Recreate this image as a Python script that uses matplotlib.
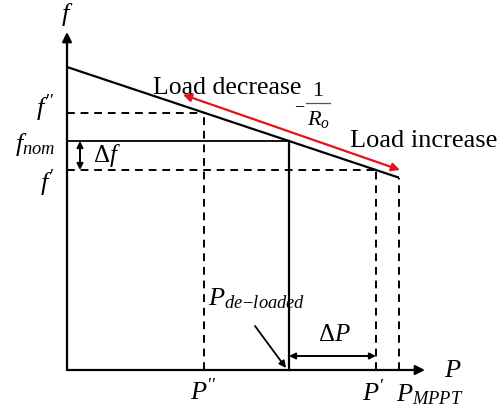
import numpy as np
import matplotlib
matplotlib.use('Agg')
import matplotlib.pyplot as plt

# droop characteristic  f = f0 - P / Ro  (schematic units)
f0 = 303.0
Ro = 3.0
# power points on the P axis
P_pts = [137, 222, 309, 332]   # P'', P_de-loaded, P', P_MPPT
P_labels = [r"$P''$", r"$P_{de\!-\!loaded}$", r"$P'$", r"$P_{MPPT}$"]
# red arrow span (P) and its offset above the droop line
red_P = [116, 333]
red_off = [11, 8]
x_max = 358
y_max = 338

plt.rcParams['font.family'] = ['Liberation Serif', 'DejaVu Serif']
plt.rcParams['mathtext.fontset'] = 'custom'
plt.rcParams['mathtext.rm'] = 'Liberation Serif'
plt.rcParams['mathtext.it'] = 'Liberation Serif:italic'

def freq(p):
    return f0 - np.asarray(p, dtype=float) / Ro

P2, Pdl, P1, Pm = P_pts
f2, fnom, f1, fm = freq(P_pts)

fig = plt.figure(figsize=(5.04, 4.10), dpi=100)
ax = fig.add_axes([0, 0, 1, 1])
ax.set_xlim(-67, 437)
ax.set_ylim(-39, 371)
ax.axis('off')

# axes with arrows
ap = dict(arrowstyle='-|>', color='black', lw=1.6, mutation_scale=14, shrinkA=0, shrinkB=0)
ax.annotate('', xy=(0, y_max), xytext=(0, 0), arrowprops=ap)
ax.annotate('', xy=(x_max, 0), xytext=(0, 0), arrowprops=ap)

# droop line
ax.plot([0, Pm], [f0, fm], color='black', lw=1.6, solid_capstyle='butt')

# nominal operating point (solid)
ax.plot([0, Pdl], [fnom, fnom], color='black', lw=1.3)
ax.plot([Pdl, Pdl], [0, fnom], color='black', lw=1.6)

# dashed construction lines
ds = dict(color='black', lw=1.4, ls=(0, (4, 3)))
ax.plot([0, P2], [f2, f2], **ds)
ax.plot([P2, P2], [0, f2], **ds)
ax.plot([0, P1], [f1, f1], **ds)
ax.plot([P1, P1], [0, f1], **ds)
ax.plot([Pm, Pm], [0, fm], **ds)

# red double arrow along the droop
rx = np.array(red_P, dtype=float)
ry = freq(rx) + np.array(red_off)
ax.annotate('', xy=(rx[0], ry[0]), xytext=(rx[1], ry[1]),
            arrowprops=dict(arrowstyle='<|-|>', color='#e8101a', lw=1.6,
                            mutation_scale=12, shrinkA=0, shrinkB=0))

# delta f and delta P arrows
dp = dict(arrowstyle='<|-|>', color='black', lw=1.4, mutation_scale=9, shrinkA=0, shrinkB=0)
ax.annotate('', xy=(13, fnom), xytext=(13, f1), arrowprops=dp)
ax.annotate('', xy=(Pdl, 14), xytext=(P1, 14), arrowprops=dp)
ax.text(40, (fnom + f1) / 2 + 1, r'$\Delta f$', fontsize=18, ha='center', va='center')
ax.text((Pdl + P1) / 2 + 2, 36, r'$\Delta P$', fontsize=18, ha='center', va='center')

# P_de-loaded pointer
ax.annotate('', xy=(Pdl - 3, 2), xytext=(Pdl - 34, 44),
            arrowprops=dict(arrowstyle='-|>', color='black', lw=1.3, mutation_scale=10,
                            shrinkA=0, shrinkB=0))

# axis labels
ax.text(0, 357, r'$f$', fontsize=19, ha='center', va='center')
ax.text(386, 0, r'$P$', fontsize=19, ha='center', va='center')

# frequency labels
ax.text(-13, f2 + 5, r"$f''$", fontsize=19, ha='right', va='center')
ax.text(-12, fnom - 2, r'$f_{nom}$', fontsize=19, ha='right', va='center')
ax.text(-13, f1 - 12, r"$f'$", fontsize=19, ha='right', va='center')

# power labels
ax.text(P2, -21, P_labels[0], fontsize=19, ha='center', va='center')
ax.text(141, 72, P_labels[1], fontsize=19, ha='left', va='center')
ax.text(P1 - 2, -22, P_labels[2], fontsize=19, ha='center', va='center')
ax.text(Pm - 3, -24, P_labels[3], fontsize=19, ha='left', va='center')

# annotations
ax.text(86, 277, 'Load decrease', fontsize=18.5, ha='left', va='baseline')
ax.text(283, 224, 'Load increase', fontsize=19, ha='left', va='baseline')

# slope label  -1/Ro, built from pieces
sx, sy = 251, 267
ax.text(sx - 18, sy - 2, r'$-$', fontsize=13, ha='center', va='center')
ax.text(sx, sy + 13, '1', fontsize=16, ha='center', va='center')
ax.plot([sx - 12, sx + 12], [sy, sy], color='#555555', lw=0.9)
ax.text(sx + 1, sy - 16, r'$R_o$', fontsize=16, ha='center', va='center')

fig.savefig('out.png', dpi=100)
